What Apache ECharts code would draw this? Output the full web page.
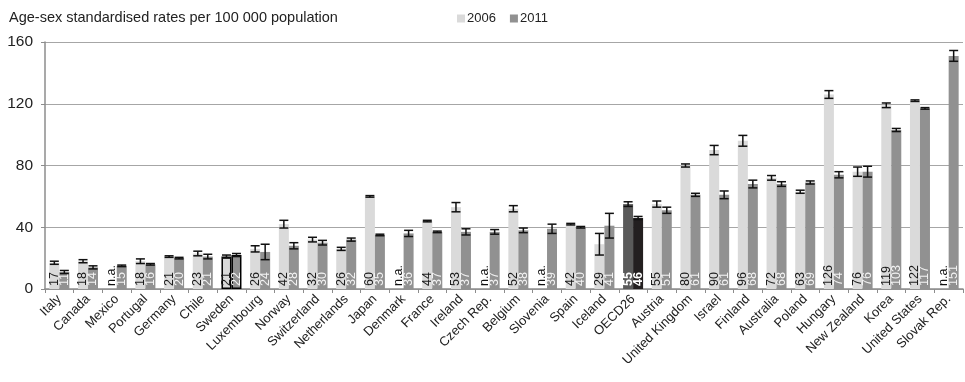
<!DOCTYPE html>
<html>
<head>
<meta charset="utf-8">
<script src="https://cdn.jsdelivr.net/npm/echarts@6/dist/echarts.min.js"></script>
<style>
  html, body { margin: 0; padding: 0; background: #fff; }
  #chart { width: 965px; height: 382px; }
</style>
</head>
<body>
<div id="chart"></div>
<script>
// Countries in display order
const categories = ['Italy', 'Canada', 'Mexico', 'Portugal', 'Germany', 'Chile', 'Sweden', 'Luxembourg',
  'Norway', 'Switzerland', 'Netherlands', 'Japan', 'Denmark', 'France', 'Ireland', 'Czech Rep.',
  'Belgium', 'Slovenia', 'Spain', 'Iceland', 'OECD26', 'Austria', 'United Kingdom', 'Israel',
  'Finland', 'Australia', 'Poland', 'Hungary', 'New Zealand', 'Korea', 'United States', 'Slovak Rep.'];

// Rates per 100 000 population (null = not available)
const rates2006 = [17, 18, null, 18, 21, 23, 21, 26, 42, 32, 26, 60, null, 44, 53, null,
  52, null, 42, 29, 55, 55, 80, 90, 96, 72, 63, 126, 76, 119, 122, null];
const rates2011 = [11, 14, 15, 16, 20, 21, 22, 24, 28, 30, 32, 35, 36, 37, 37, 37,
  38, 39, 40, 41, 46, 51, 61, 61, 68, 68, 69, 74, 76, 103, 117, 151];

// Half-width of the 95% confidence interval
const ci2006 = [1, 1, null, 1.5, 0.5, 1.5, 1, 2, 2.5, 1.5, 1, 0.5, null, 0.5, 3, null,
  2, null, 0.5, 7, 1.5, 2, 1, 3, 3.5, 1.5, 1, 2.5, 3, 1.5, 0.5, null];
const ci2011 = [1, 1, 0.5, 0.5, 0.5, 1.5, 1, 5, 2, 1.5, 1, 0.5, 2, 0.5, 2, 1.5,
  1.5, 3, 0.5, 8, 1, 2, 1, 2.5, 2.5, 1.5, 1, 2, 3.5, 1, 0.5, 3.5];

const yTicks = [0, 40, 80, 120, 160];

const FONT = 'Liberation Sans, Arial, sans-serif';
const C2006 = '#dadada';
const C2011 = '#919191';
const BAR_W = 10;
const HIGHLIGHT = 'Sweden';
const AVERAGE = 'OECD26';

function barLabel(color, bold) {
  return {
    show: true, position: 'insideBottom', rotate: 90, align: 'left', verticalAlign: 'middle',
    distance: 3, fontSize: 12.5, fontFamily: FONT, color: color, fontWeight: bold ? 'bold' : 'normal'
  };
}

const data2006 = categories.map((c, i) => {
  const v = rates2006[i];
  const item = { value: v == null ? 0 : v };
  if (v == null) item.label = { formatter: 'n.a.', color: '#111' };
  if (c === AVERAGE) { item.itemStyle = { color: '#5a5a5a' }; item.label = { color: '#fff', fontWeight: 'bold' }; }
  if (c === HIGHLIGHT) item.itemStyle = { borderColor: '#000', borderWidth: 1.5 };
  return item;
});
const data2011 = categories.map((c, i) => {
  const item = { value: rates2011[i] };
  if (c === AVERAGE) { item.itemStyle = { color: '#231f20' }; item.label = { color: '#fff', fontWeight: 'bold' }; }
  if (c === HIGHLIGHT) item.itemStyle = { borderColor: '#000', borderWidth: 1.5 };
  return item;
});

function ciData(vals, ci) {
  const out = [];
  vals.forEach((v, i) => { if (v != null && ci[i] != null) out.push([i, v - ci[i], v + ci[i]]); });
  return out;
}

function errorRenderer(offset) {
  return function (params, api) {
    const i = api.value(0);
    const lo = api.coord([i, api.value(1)]);
    const hi = api.coord([i, api.value(2)]);
    const x = lo[0] + offset;
    const cap = 4.5;
    const style = { stroke: '#111', lineWidth: 1.5 };
    return {
      type: 'group',
      children: [
        { type: 'line', shape: { x1: x, y1: lo[1], x2: x, y2: hi[1] }, style },
        { type: 'line', shape: { x1: x - cap, y1: lo[1], x2: x + cap, y2: lo[1] }, style },
        { type: 'line', shape: { x1: x - cap, y1: hi[1], x2: x + cap, y2: hi[1] }, style }
      ]
    };
  };
}

const chart = echarts.init(document.getElementById('chart'), null, { renderer: 'canvas' });
chart.setOption({
  animation: false,
  backgroundColor: '#fff',
  textStyle: { fontFamily: FONT },
  title: {
    text: 'Age-sex standardised rates per 100 000 population',
    left: 4, top: 5,
    textStyle: { fontSize: 14.5, fontWeight: 'normal', color: '#222', fontFamily: FONT }
  },
  legend: {
    data: ['2006', '2011'], left: 452, top: 7, icon: 'rect', itemWidth: 8, itemHeight: 8, itemGap: 14,
    textStyle: { fontSize: 13, color: '#222', fontFamily: FONT, padding: [0, 0, 0, -3] }
  },
  grid: { left: 45, right: 2, top: 42, bottom: 93, containLabel: false },
  xAxis: {
    type: 'category', data: categories,
    axisLine: { lineStyle: { color: '#8c8c8c', width: 1.5 } },
    axisTick: { show: true, length: 4, lineStyle: { color: '#8c8c8c' } },
    axisLabel: { rotate: 45, interval: 0, fontSize: 13, color: '#222', fontFamily: FONT, margin: 8 }
  },
  yAxis: {
    type: 'value', min: yTicks[0], max: yTicks[yTicks.length - 1], interval: 40,
    axisLine: { show: true, lineStyle: { color: '#8c8c8c', width: 1.5 } },
    axisTick: { show: true, length: 4, lineStyle: { color: '#8c8c8c' } },
    axisLabel: { fontSize: 15.5, color: '#222', fontFamily: FONT, margin: 12 },
    splitLine: { lineStyle: { color: '#a6a6a6', width: 1.2 } }
  },
  series: [
    { name: '2006', type: 'bar', data: data2006, barWidth: BAR_W, barGap: '0%',
      itemStyle: { color: C2006 }, label: barLabel('#1a1a1a') },
    { name: '2011', type: 'bar', data: data2011, barWidth: BAR_W, barGap: '0%',
      itemStyle: { color: C2011 }, label: barLabel('#f2f2f2') },
    { name: 'ci2006', type: 'custom', data: ciData(rates2006, ci2006), renderItem: errorRenderer(-BAR_W / 2),
      encode: { x: 0, y: [1, 2] }, z: 5 },
    { name: 'ci2011', type: 'custom', data: ciData(rates2011, ci2011), renderItem: errorRenderer(BAR_W / 2),
      encode: { x: 0, y: [1, 2] }, z: 5 }
  ]
});
</script>
</body>
</html>
